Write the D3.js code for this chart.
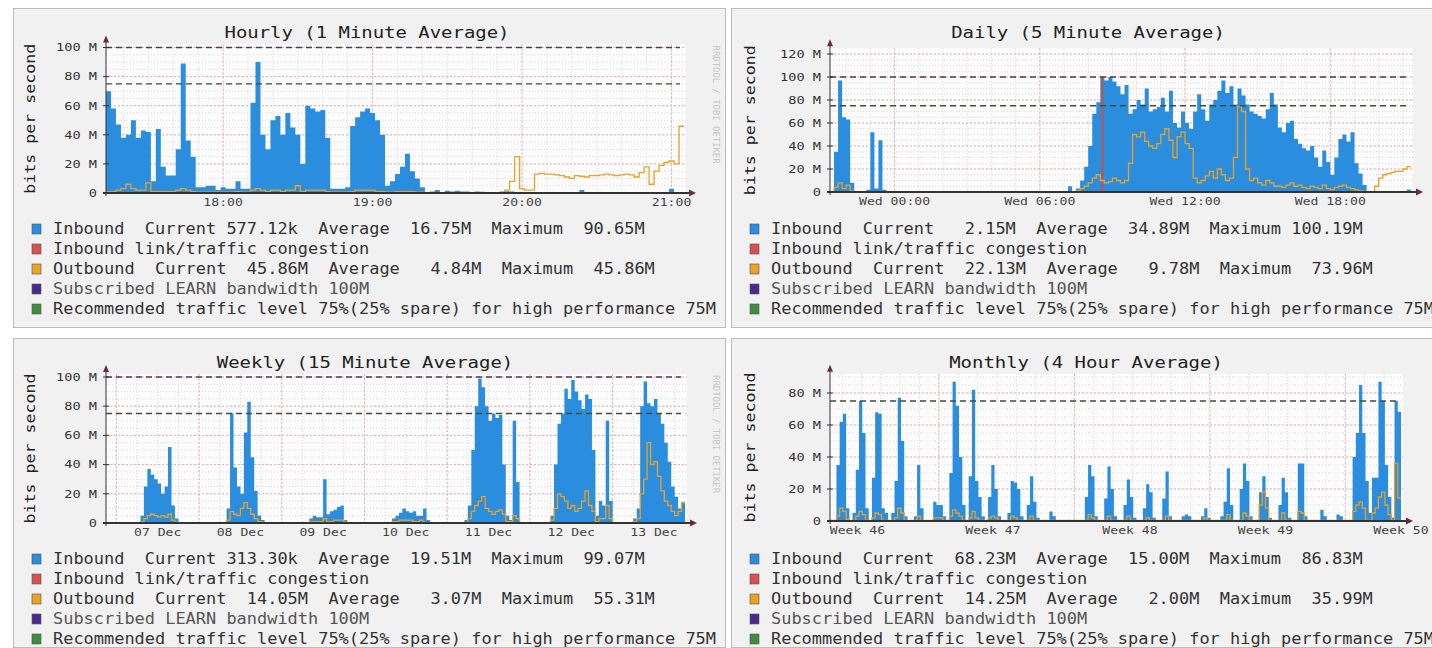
<!DOCTYPE html>
<html>
<head>
<meta charset="utf-8">
<title>LEARN link traffic</title>
<script src="https://cdn.jsdelivr.net/npm/d3@7"></script>
<style>
  body { margin: 0; background: #fff; }
  svg text { font-family: "DejaVu Sans Mono", monospace; white-space: pre; }
</style>
</head>
<body>
<script>
"use strict";

// Traffic in Mbit/s, oldest sample first

// hourly: 2 minute samples from 17:13
let hourlyIn = [
    70, 58, 47, 38, 40, 50, 38, 43, 42, 8,
    44, 18, 12, 12, 30, 89, 36, 25, 4, 4,
    5, 5, 2, 4, 3, 3, 8, 3, 3, 62,
    90, 40, 30, 50, 53, 40, 55, 45, 40, 20,
    60, 58, 56, 57, 38, 3, 3, 3, 4, 46,
    52, 56, 58, 55, 50, 40, 5, 8, 13, 18,
    27, 15, 10, 4, 0.5, 1, 2, 0.5, 1.5, 1,
    1.5, 1, 1, 0.5, 1, 0.8, 0.3, 0.3, 0.5, 1,
    1.2, 1, 0.5, 0.3, 0.3, 0.4, 0.3, 0.3, 0.3, 0.5,
    0.3, 0.3, 0.3, 0.4, 0.3, 2, 0.3, 0.3, 0.3, 0.3,
    0.4, 0.3, 0.3, 0.3, 0.3, 0.3, 0.3, 0.3, 0.3, 0.3,
    0.3, 0.4, 0.5, 3, 0.6, 0.58
];
let hourlyOut = [
    1, 1, 2, 3, 6, 3, 2, 2, 7, 1,
    1, 1, 1, 1, 2, 3, 2, 1, 0.5, 0.5,
    0.5, 0.5, 0.5, 0.5, 0.5, 0.5, 1, 0.5, 0.5, 2,
    3, 2, 1, 2, 2, 1, 2, 2, 5, 1,
    2, 2, 2, 2, 1, 0.5, 0.5, 0.5, 0.5, 1,
    2, 2, 2, 2, 1, 1, 0.5, 0.5, 1, 1,
    1, 1, 0.5, 0.5, 0.3, 0.3, 0.3, 0.3, 0.3, 0.3,
    0.3, 0.3, 0.3, 0.3, 0.3, 0.3, 0.3, 0.3, 0.3, 0.3,
    2, 8, 25, 3, 2, 2, 13, 13.5, 13, 13,
    12.5, 12, 11, 10, 12, 11.5, 11, 12, 12, 12.5,
    13, 12.5, 12, 12.5, 13, 12.5, 11, 14, 18, 6,
    15, 19, 21, 22, 20, 45.86
];

// daily: 10 minute samples from Tue 21:20
let dailyIn = [
    0.3, 35, 97, 65, 63, 8, 0.3, 0.3, 0.3, 2,
    52, 3, 45, 2, 0.3, 0.3, 0.3, 0.3, 0.3, 0.3,
    0.3, 0.3, 0.3, 0.3, 0.3, 0.3, 0.3, 0.3, 0.3, 0.3,
    0.3, 0.3, 0.3, 0.3, 0.3, 0.3, 0.3, 0.3, 0.3, 0.3,
    0.3, 0.3, 0.3, 0.3, 0.3, 0.3, 0.3, 0.3, 0.3, 0.3,
    0.3, 0.3, 0.3, 0.3, 0.3, 0.3, 0.3, 0.3, 0.3, 5,
    0.5, 3, 10, 22, 40, 68, 78, 100, 97, 100,
    96, 92, 85, 93, 68, 72, 80, 76, 90, 70,
    72, 74, 82, 70, 88, 60, 56, 70, 60, 55,
    70, 85, 72, 62, 76, 80, 88, 97, 86, 92,
    76, 90, 84, 76, 70, 68, 66, 64, 72, 86,
    76, 56, 52, 60, 62, 46, 42, 38, 36, 40,
    30, 22, 36, 26, 15, 30, 46, 50, 44, 52,
    25, 16, 6, 0.3, 0.3, 0.3, 0.3, 0.3, 0.3, 0.3,
    0.3, 0.3, 0.3, 2.15
];
let dailyOut = [
    0.3, 4, 8, 3, 6, 1, 0.3, 0.3, 0.3, 0.3,
    0.3, 0.3, 0.3, 0.3, 0.3, 0.3, 0.3, 0.3, 0.3, 0.3,
    0.3, 0.3, 0.3, 0.3, 0.3, 0.3, 0.3, 0.3, 0.3, 0.3,
    0.3, 0.3, 0.3, 0.3, 0.3, 0.3, 0.3, 0.3, 0.3, 0.3,
    0.3, 0.3, 0.3, 0.3, 0.3, 0.3, 0.3, 0.3, 0.3, 0.3,
    0.3, 0.3, 0.3, 0.3, 0.3, 0.3, 0.3, 0.3, 0.3, 0.3,
    0.3, 1, 3, 5, 8, 12, 15, 10, 8, 9,
    12, 10, 8, 10, 25, 50, 48, 52, 44, 40,
    38, 42, 50, 55, 45, 30, 48, 52, 42, 38,
    12, 8, 10, 14, 18, 12, 20, 15, 10, 12,
    30, 74, 70, 20, 10, 12, 8, 6, 10, 8,
    5, 5, 4, 6, 8, 5, 6, 4, 3, 5,
    4, 3, 6, 3, 2, 4, 5, 6, 4, 3,
    2, 1, 0.5, 0.3, 0.3, 5, 12, 15, 16, 17,
    18, 18, 20, 22.13
];
// [sample index, Mbit/s]
let dailyCongestion = [[67, 100]];

// weekly: 1 hour samples from 06 Dec 21:00
let weeklyIn = [
    0.2, 0.2, 0.2, 0.2, 0.2, 0.2, 0.2, 0.2, 0.2, 0.2,
    5, 25, 37, 33, 30, 27, 20, 25, 52, 12,
    3, 0.2, 0.2, 0.2, 0.2, 0.2, 0.2, 0.2, 0.2, 0.2,
    0.2, 0.2, 0.2, 0.2, 0.2, 10, 75, 38, 25, 20,
    62, 83, 45, 22, 5, 2, 0.5, 0.2, 0.2, 0.2,
    0.2, 0.2, 0.2, 0.2, 0.2, 0.2, 0.2, 0.2, 0.2, 3,
    5, 4, 4, 30, 6, 8, 9, 11, 12, 2,
    0.3, 0.3, 0.3, 0.3, 0.3, 0.3, 0.3, 0.3, 0.3, 0.3,
    0.3, 0.3, 0.5, 3, 5, 7, 10, 8, 7, 8,
    5, 5, 10, 2, 0.5, 0.2, 0.2, 0.2, 0.2, 0.2,
    0.2, 0.2, 0.2, 0.2, 2, 12, 50, 80, 99, 93,
    80, 70, 75, 72, 74, 40, 5, 2, 70, 28,
    0.5, 0.2, 0.2, 0.2, 0.2, 0.2, 0.2, 0.2, 0.2, 5,
    40, 68, 75, 92, 85, 98, 90, 84, 78, 88,
    85, 50, 5, 15, 12, 70, 15, 0.5, 0.2, 0.2,
    0.2, 0.2, 0.5, 3, 10, 80, 97, 82, 80, 85,
    75, 68, 55, 42, 25, 18, 10, 14
];
let weeklyOut = [
    0.2, 0.2, 0.2, 0.2, 0.2, 0.2, 0.2, 0.2, 0.2, 0.2,
    1, 3, 5, 6, 5, 4, 5, 4, 6, 2,
    0.5, 0.2, 0.2, 0.2, 0.2, 0.2, 0.2, 0.2, 0.2, 0.2,
    0.2, 0.2, 0.2, 0.2, 0.2, 2, 8, 6, 5, 10,
    14, 10, 6, 3, 1, 0.5, 0.2, 0.2, 0.2, 0.2,
    0.2, 0.2, 0.2, 0.2, 0.2, 0.2, 0.2, 0.2, 0.2, 1,
    1, 1, 1, 3, 1, 1, 2, 2, 2, 0.5,
    0.2, 0.2, 0.2, 0.2, 0.2, 0.2, 0.2, 0.2, 0.2, 0.2,
    0.2, 0.2, 0.2, 1, 1, 2, 2, 2, 2, 1,
    1, 2, 0.5, 0.2, 0.2, 0.2, 0.2, 0.2, 0.2, 0.2,
    0.2, 0.2, 0.2, 0.2, 0.2, 3, 8, 12, 15, 18,
    10, 8, 6, 8, 9, 6, 1, 1, 5, 3,
    0.2, 0.2, 0.2, 0.2, 0.2, 0.2, 0.2, 0.2, 0.2, 2,
    10, 20, 18, 15, 10, 12, 8, 10, 15, 22,
    12, 8, 1, 3, 3, 12, 3, 0.2, 0.2, 0.2,
    0.2, 0.2, 0.2, 1, 3, 20, 30, 55, 40, 42,
    32, 22, 15, 12, 8, 5, 8, 14.05
];

// monthly: 4 hour samples
let monthlyIn = [
    0.3, 0.3, 35, 62, 67, 8, 0.5, 5, 32, 75,
    55, 8, 0.5, 27, 68, 67, 8, 5, 0.5, 5,
    25, 77, 50, 3, 0.3, 0.5, 3, 35, 8, 0.5,
    0.3, 0.5, 12, 10, 10, 3, 0.5, 30, 87, 72,
    40, 10, 0.5, 28, 82, 25, 15, 3, 0.5, 15,
    35, 20, 3, 0.3, 0.5, 5, 25, 24, 20, 3,
    0.5, 10, 28, 12, 2, 0.3, 0.3, 0.5, 6, 3,
    0.3, 0.3, 0.3, 0.3, 0.3, 0.3, 0.3, 0.3, 0.3, 15,
    35, 28, 3, 0.3, 0.5, 14, 34, 20, 3, 0.3,
    0.5, 10, 26, 15, 2, 0.3, 0.5, 8, 23, 18,
    2, 0.3, 0.5, 14, 31, 3, 0.3, 0.3, 0.5, 3,
    4, 3, 0.5, 0.3, 0.5, 3, 8, 2, 0.3, 0.3,
    0.5, 3, 12, 33, 10, 0.5, 0.5, 20, 36, 25,
    3, 0.3, 0.5, 18, 28, 15, 2, 0.3, 0.5, 10,
    27, 18, 2, 0.3, 0.5, 36, 36, 3, 0.3, 0.3,
    0.3, 0.5, 7, 3, 0.3, 0.3, 0.5, 4, 3, 0.3,
    0.3, 0.5, 40, 55, 85, 55, 25, 5, 27, 27,
    87, 75, 35, 15, 2, 75, 68.23
];
let monthlyOut = [
    0.3, 0.3, 3, 8, 6, 1, 0.3, 0.3, 3, 6,
    4, 0.3, 0.3, 2, 5, 4, 0.3, 0.3, 0.3, 0.3,
    2, 8, 5, 0.3, 0.3, 0.3, 0.3, 3, 0.3, 0.3,
    0.3, 0.3, 2, 2, 2, 0.3, 0.3, 3, 7, 5,
    3, 0.3, 0.3, 2, 6, 2, 0.3, 0.3, 0.3, 2,
    3, 2, 0.3, 0.3, 0.3, 0.3, 3, 2, 0.3, 0.3,
    0.3, 0.3, 3, 0.3, 0.3, 0.3, 0.3, 0.3, 0.3, 0.3,
    0.3, 0.3, 0.3, 0.3, 0.3, 0.3, 0.3, 0.3, 0.3, 0.3,
    4, 2, 0.3, 0.3, 0.3, 0.3, 3, 0.3, 0.3, 0.3,
    0.3, 0.3, 3, 0.3, 0.3, 0.3, 0.3, 0.3, 2, 0.3,
    0.3, 0.3, 0.3, 0.3, 3, 0.3, 0.3, 0.3, 0.3, 0.3,
    0.3, 0.3, 0.3, 0.3, 0.3, 0.3, 2, 0.3, 0.3, 0.3,
    0.3, 0.3, 0.3, 4, 0.3, 0.3, 0.3, 0.3, 5, 3,
    0.3, 0.3, 0.3, 10, 18, 8, 0.3, 0.3, 0.3, 0.3,
    5, 0.3, 0.3, 0.3, 0.3, 6, 5, 0.3, 0.3, 0.3,
    0.3, 0.3, 0.3, 0.3, 0.3, 0.3, 0.3, 0.3, 0.3, 0.3,
    0.3, 0.3, 6, 10, 12, 8, 0.3, 0.3, 5, 8,
    15, 18, 10, 4, 0.3, 36, 14.25
];

// Axis ticks (x positions in each chart's own time unit)
let hourlyTicks = [47, 107, 167, 227];
let hourlyTickText = ["18:00", "19:00", "20:00", "21:00"];
let dailyTicks = [160, 520, 880, 1240];
let dailyTickText = ["Wed 00:00", "Wed 06:00", "Wed 12:00", "Wed 18:00"];
let weeklyTicks = [15, 39, 63, 87, 111, 135, 159];
let weeklyTickText = ["07 Dec", "08 Dec", "09 Dec", "10 Dec", "11 Dec", "12 Dec", "13 Dec"];
let monthlyTicks = [34, 202, 372, 540, 708];
let monthlyTickText = ["Week 46", "Week 47", "Week 48", "Week 49", "Week 50"];

let yTicks100 = [0, 20, 40, 60, 80, 100];
let yTicks120 = [0, 20, 40, 60, 80, 100, 120];
let yTicks80 = [0, 20, 40, 60, 80];

// Subscribed bandwidth and recommended level
let limitValues = [100, 75];

let congestionText = "Inbound link/traffic congestion";
let subscribedText = "Subscribed LEARN bandwidth 100M";
let recommendedText = "Recommended traffic level 75%(25% spare) for high performance 75M";

let hourlyLegend = [
    "Inbound  Current 577.12k  Average  16.75M  Maximum  90.65M",
    congestionText,
    "Outbound  Current  45.86M  Average   4.84M  Maximum  45.86M",
    subscribedText, recommendedText
];
let dailyLegend = [
    "Inbound  Current   2.15M  Average  34.89M  Maximum 100.19M",
    congestionText,
    "Outbound  Current  22.13M  Average   9.78M  Maximum  73.96M",
    subscribedText, recommendedText
];
let weeklyLegend = [
    "Inbound  Current 313.30k  Average  19.51M  Maximum  99.07M",
    congestionText,
    "Outbound  Current  14.05M  Average   3.07M  Maximum  55.31M",
    subscribedText, recommendedText
];
let monthlyLegend = [
    "Inbound  Current  68.23M  Average  15.00M  Maximum  86.83M",
    congestionText,
    "Outbound  Current  14.25M  Average   2.00M  Maximum  35.99M",
    subscribedText, recommendedText
];


// Layout

let colIn = "#2a8ddd";
let colCong = "#c8504c";
let colOut = "#e9a126";
let legendColors = [colIn, "#d6524e", colOut, "#4a2a8c", "#3f8c3f"];
let limitColors = ["#4b3a58", "#3e4e3e"];

let panels = [
    {left: 13, top: 8, height: 319, title: "Hourly (1 Minute Average)", titleX: 354,
     inbound: hourlyIn, outbound: hourlyOut, congestion: [], step: 2,
     xRange: [93, 671], base: 185, yRef: 100, yRefPx: 39.5, yMax: 102, yTicks: yTicks100,
     ticks: hourlyTicks, tickText: hourlyTickText, minor: [7, 10], major: [47, 60],
     yLabelX: 17, mark: true, legend: hourlyLegend},
    {left: 731, top: 8, height: 319, title: "Daily (5 Minute Average)", titleX: 357,
     inbound: dailyIn, outbound: dailyOut, congestion: dailyCongestion, step: 10,
     xRange: [99, 680], base: 184, yRef: 120, yRefPx: 46, yMax: 125, yTicks: yTicks120,
     ticks: dailyTicks, tickText: dailyTickText, minor: [40, 60], major: [160, 360],
     yLabelX: 19, mark: false, legend: dailyLegend},
    {left: 13, top: 338, height: 309, title: "Weekly (15 Minute Average)", titleX: 352,
     inbound: weeklyIn, outbound: weeklyOut, congestion: [], step: 1,
     xRange: [93, 672], base: 185, yRef: 100, yRefPx: 39, yMax: 102, yTicks: yTicks100,
     ticks: weeklyTicks, tickText: weeklyTickText, minor: [3, 6], major: [3, 24],
     yLabelX: 17, mark: true, legend: weeklyLegend},
    {left: 731, top: 338, height: 309, title: "Monthly (4 Hour Average)", titleX: 355,
     inbound: monthlyIn, outbound: monthlyOut, congestion: [], step: 4,
     xRange: [99, 670], base: 183, yRef: 80, yRefPx: 55, yMax: 92, yTicks: yTicks80,
     ticks: monthlyTicks, tickText: monthlyTickText, minor: [15, 24], major: [135, 168],
     yLabelX: 19, mark: false, legend: monthlyLegend}
];

let svg = d3.select("body")
    .append("svg")
    .attr("width", 1432)
    .attr("height", 648);

function yLabel(v) {
    return v === 0 ? "0" : v + " M";
}

function drawPanel(p) {
    let g = svg.append("g")
        .attr("transform", `translate(${p.left}, ${p.top})`);

    g.append("rect")
        .attr("x", 0.5)
        .attr("y", 0.5)
        .attr("width", 712)
        .attr("height", p.height)
        .attr("fill", "#f1f1f1")
        .attr("stroke", "#bcbcbc");

    let n = p.inbound.length;
    let span = n * p.step;
    let x = d3.scaleLinear().domain([0, span]).range(p.xRange);
    let y = d3.scaleLinear().domain([0, p.yRef]).range([p.base, p.yRefPx]);
    let x0 = p.xRange[0];
    let x1 = p.xRange[1] + 2;
    let top = y(p.yMax);

    g.append("rect")
        .attr("x", x0)
        .attr("y", top)
        .attr("width", x1 - x0)
        .attr("height", p.base - top)
        .attr("fill", "#fcfcfc");

    // grid
    let minorX = d3.range(p.minor[0], span, p.minor[1]);
    let majorX = d3.range(p.major[0], span, p.major[1]);
    let minorY = d3.range(5, p.yMax, 5);
    let majorY = p.yTicks.filter(v => v > 0);

    g.selectAll(".vminor").data(minorX).join("line")
        .attr("class", "vminor")
        .attr("x1", d => x(d)).attr("x2", d => x(d))
        .attr("y1", top).attr("y2", p.base)
        .attr("stroke", "#d9d3d3")
        .attr("stroke-dasharray", "1,2");

    g.selectAll(".hminor").data(minorY).join("line")
        .attr("class", "hminor")
        .attr("x1", x0).attr("x2", x1)
        .attr("y1", d => y(d)).attr("y2", d => y(d))
        .attr("stroke", "#dcd6d6")
        .attr("stroke-dasharray", "1,2");

    g.selectAll(".vmajor").data(majorX).join("line")
        .attr("class", "vmajor")
        .attr("x1", d => x(d)).attr("x2", d => x(d))
        .attr("y1", top).attr("y2", p.base)
        .attr("stroke", "#e0b2b2")
        .attr("stroke-dasharray", "2,2");

    g.selectAll(".hmajor").data(majorY).join("line")
        .attr("class", "hmajor")
        .attr("x1", x0).attr("x2", x1)
        .attr("y1", d => y(d)).attr("y2", d => y(d))
        .attr("stroke", "#e0b2b2")
        .attr("stroke-dasharray", "2,2");

    // series
    let points = series => d3.range(n + 1).map(i => [i * p.step, series[Math.min(i, n - 1)]]);

    let area = d3.area()
        .curve(d3.curveStepAfter)
        .x(d => x(d[0]))
        .y0(p.base)
        .y1(d => y(d[1]));

    let line = d3.line()
        .curve(d3.curveStepAfter)
        .x(d => x(d[0]))
        .y(d => y(d[1]));

    g.append("path")
        .attr("d", area(points(p.inbound)))
        .attr("fill", colIn);

    g.selectAll(".cong").data(p.congestion).join("rect")
        .attr("class", "cong")
        .attr("x", d => x(d[0] * p.step) + 1)
        .attr("width", d => x((d[0] + 1) * p.step) - x(d[0] * p.step) - 2)
        .attr("y", d => y(d[1]))
        .attr("height", d => p.base - y(d[1]))
        .attr("fill", colCong);

    g.append("path")
        .attr("d", line(points(p.outbound)))
        .attr("fill", "none")
        .attr("stroke", colOut)
        .attr("stroke-width", 1.3);

    // subscribed / recommended levels
    limitValues.forEach((v, k) => {
        if (v > p.yMax) return;
        g.append("line")
            .attr("x1", x0).attr("x2", x1 - 6)
            .attr("y1", y(v)).attr("y2", y(v))
            .attr("stroke", limitColors[k])
            .attr("stroke-width", 1.4)
            .attr("stroke-dasharray", "6,4");
    });

    // axes
    g.append("line")
        .attr("x1", x0).attr("x2", x0)
        .attr("y1", p.base + 3).attr("y2", top - 4)
        .attr("stroke", "#333");

    g.append("path")
        .attr("d", `M${x0 - 3},${top - 2} L${x0},${top - 9} L${x0 + 3},${top - 2} Z`)
        .attr("fill", "#6a2a44");

    g.append("line")
        .attr("x1", x0 - 3).attr("x2", x1 + 5)
        .attr("y1", p.base).attr("y2", p.base)
        .attr("stroke", "#333")
        .attr("stroke-width", 2);

    g.append("path")
        .attr("d", `M${x1 + 3},${p.base - 3.5} L${x1 + 10},${p.base} L${x1 + 3},${p.base + 3.5} Z`)
        .attr("fill", "#6a2a44");

    g.selectAll(".ytick").data(p.yTicks).join("line")
        .attr("class", "ytick")
        .attr("x1", x0 - 3).attr("x2", x0 + 3)
        .attr("y1", d => y(d)).attr("y2", d => y(d))
        .attr("stroke", "#333");

    g.selectAll(".ylab").data(p.yTicks).join("text")
        .attr("class", "ylab")
        .attr("x", x0 - 9)
        .attr("y", d => y(d))
        .attr("dy", "0.35em")
        .attr("text-anchor", "end")
        .attr("font-size", 11)
        .attr("fill", "#333")
        .attr("textLength", d => yLabel(d).length * 8.2)
        .attr("lengthAdjust", "spacingAndGlyphs")
        .text(yLabel);

    g.selectAll(".xlab").data(p.ticks).join("text")
        .attr("class", "xlab")
        .attr("x", d => x(d))
        .attr("y", p.base + 13)
        .attr("text-anchor", "middle")
        .attr("font-size", 10.5)
        .attr("fill", "#444")
        .attr("textLength", (d, i) => p.tickText[i].length * 7.9)
        .attr("lengthAdjust", "spacingAndGlyphs")
        .text((d, i) => p.tickText[i]);

    // titles
    g.append("text")
        .attr("x", p.titleX)
        .attr("y", 30)
        .attr("text-anchor", "middle")
        .attr("font-size", 16)
        .attr("fill", "#222")
        .attr("textLength", p.title.length * 11.4)
        .attr("lengthAdjust", "spacingAndGlyphs")
        .text(p.title);

    g.append("text")
        .attr("transform", `translate(${p.yLabelX}, ${(top + p.base) / 2}) rotate(-90)`)
        .attr("text-anchor", "middle")
        .attr("dy", "0.35em")
        .attr("font-size", 14)
        .attr("fill", "#222")
        .attr("textLength", 150)
        .attr("lengthAdjust", "spacingAndGlyphs")
        .text("bits per second");

    // rrdtool watermark (off the picture for the right-hand panels)
    if (p.mark) {
        g.append("text")
            .attr("transform", `translate(700, ${top + 60}) rotate(90)`)
            .attr("text-anchor", "middle")
            .attr("font-size", 8)
            .attr("fill", "#c6c6c6")
            .attr("textLength", 118)
            .attr("lengthAdjust", "spacingAndGlyphs")
            .text("RRDTOOL / TOBI OETIKER");
    }

    // legend
    let rows = g.selectAll(".legend").data(p.legend).join("g")
        .attr("class", "legend")
        .attr("transform", (d, i) => `translate(19, ${221 + i * 20})`);

    rows.append("rect")
        .attr("x", 0).attr("y", -5)
        .attr("width", 9).attr("height", 10)
        .attr("fill", (d, i) => legendColors[i])
        .attr("stroke", "#555")
        .attr("stroke-width", 0.6);

    rows.append("text")
        .attr("x", 21)
        .attr("dy", "0.35em")
        .attr("font-size", 15)
        .attr("fill", (d, i) => i === 3 ? "#555" : "#333")
        .attr("xml:space", "preserve")
        .attr("textLength", d => d.length * 10.2)
        .attr("lengthAdjust", "spacingAndGlyphs")
        .text(d => d);
}

panels.forEach(drawPanel);
</script>
</body>
</html>
